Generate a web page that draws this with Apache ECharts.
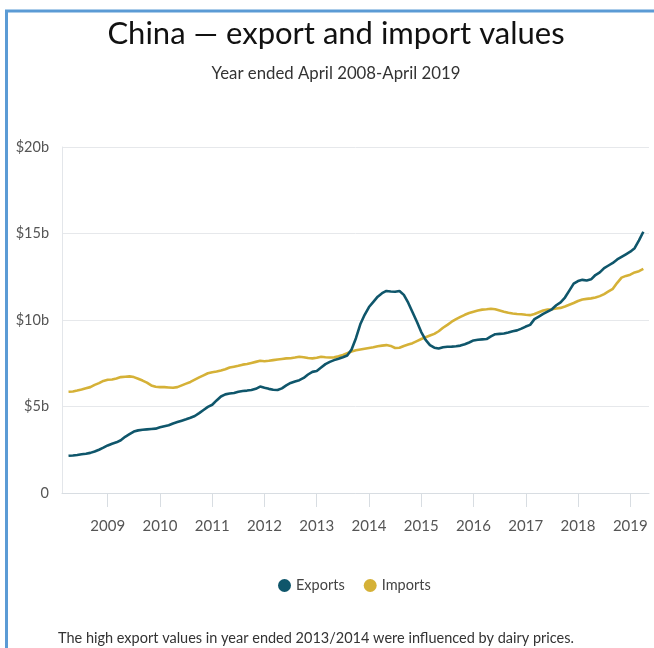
<!DOCTYPE html>
<html>
<head>
<meta charset="utf-8">
<script src="https://cdn.jsdelivr.net/npm/echarts@6/dist/echarts.min.js"></script>
<style>
  html, body { margin: 0; padding: 0; background: #fff; }
  #chart { width: 654px; height: 648px; }
</style>
</head>
<body>
<div id="chart"></div>
<script>
// Year-ended values (NZ$ billion), monthly from April 2008 to April 2019
const firstYear = 2008;
const firstMonth = 4; // April

const exports2008 = [2.15, 2.17, 2.20, 2.24, 2.27, 2.32, 2.40, 2.50, 2.62];
const exports2009 = [2.75, 2.85, 2.93, 3.05, 3.25, 3.40, 3.55, 3.62, 3.66, 3.68, 3.70, 3.72];
const exports2010 = [3.80, 3.86, 3.92, 4.02, 4.10, 4.18, 4.26, 4.35, 4.45, 4.62, 4.80, 4.98];
const exports2011 = [5.10, 5.35, 5.58, 5.70, 5.75, 5.78, 5.85, 5.90, 5.92, 5.95, 6.02, 6.15];
const exports2012 = [6.08, 6.02, 5.97, 5.95, 6.05, 6.22, 6.36, 6.45, 6.52, 6.65, 6.85, 7.00];
const exports2013 = [7.05, 7.25, 7.45, 7.58, 7.68, 7.76, 7.85, 7.95, 8.30, 8.95, 9.75, 10.30];
const exports2014 = [10.75, 11.05, 11.35, 11.55, 11.68, 11.65, 11.63, 11.68, 11.45, 11.00, 10.45, 9.90];
const exports2015 = [9.30, 8.85, 8.55, 8.40, 8.35, 8.42, 8.45, 8.46, 8.48, 8.52, 8.60, 8.70];
const exports2016 = [8.82, 8.86, 8.88, 8.90, 9.05, 9.18, 9.20, 9.22, 9.28, 9.35, 9.40, 9.50];
const exports2017 = [9.62, 9.72, 10.05, 10.20, 10.35, 10.48, 10.62, 10.85, 11.02, 11.30, 11.70, 12.10];
const exports2018 = [12.25, 12.32, 12.28, 12.35, 12.60, 12.75, 13.00, 13.15, 13.30, 13.50, 13.65, 13.80];
const exports2019 = [13.95, 14.15, 14.60, 15.10];

const imports2008 = [5.85, 5.87, 5.92, 5.98, 6.05, 6.12, 6.25, 6.35, 6.48];
const imports2009 = [6.55, 6.56, 6.62, 6.70, 6.72, 6.74, 6.70, 6.60, 6.50, 6.38, 6.22, 6.14];
const imports2010 = [6.12, 6.12, 6.10, 6.08, 6.12, 6.22, 6.32, 6.42, 6.55, 6.68, 6.80, 6.92];
const imports2011 = [6.98, 7.02, 7.08, 7.15, 7.25, 7.30, 7.35, 7.42, 7.46, 7.52, 7.58, 7.64];
const imports2012 = [7.62, 7.64, 7.68, 7.72, 7.75, 7.78, 7.79, 7.83, 7.88, 7.85, 7.80, 7.78];
const imports2013 = [7.82, 7.88, 7.85, 7.83, 7.84, 7.90, 7.98, 8.08, 8.18, 8.25, 8.30, 8.34];
const imports2014 = [8.38, 8.42, 8.48, 8.52, 8.55, 8.50, 8.38, 8.40, 8.50, 8.58, 8.66, 8.78];
const imports2015 = [8.90, 9.00, 9.10, 9.20, 9.35, 9.55, 9.72, 9.90, 10.05, 10.18, 10.30, 10.40];
const imports2016 = [10.48, 10.55, 10.60, 10.62, 10.65, 10.62, 10.55, 10.48, 10.42, 10.38, 10.35, 10.33];
const imports2017 = [10.30, 10.28, 10.35, 10.45, 10.55, 10.60, 10.62, 10.66, 10.70, 10.78, 10.88, 10.98];
const imports2018 = [11.10, 11.18, 11.22, 11.25, 11.30, 11.38, 11.50, 11.65, 11.80, 12.15, 12.45, 12.55];
const imports2019 = [12.62, 12.75, 12.82, 12.95];

const yearLabels = ['2009', '2010', '2011', '2012', '2013', '2014', '2015', '2016', '2017', '2018', '2019'];
const valueTicks = [0, 5, 10, 15, 20];
const seriesNames = ['Exports', 'Imports'];

const exportsValues = [].concat(exports2008, exports2009, exports2010, exports2011, exports2012,
  exports2013, exports2014, exports2015, exports2016, exports2017, exports2018, exports2019);
const importsValues = [].concat(imports2008, imports2009, imports2010, imports2011, imports2012,
  imports2013, imports2014, imports2015, imports2016, imports2017, imports2018, imports2019);

// x position = months since January of the first year
const startOffset = firstMonth - 1;
const toPoints = vals => vals.map((v, i) => [startOffset + i, v]);
const yearPos = yearLabels.map(y => (Number(y) - firstYear) * 12);

const FONT = 'Lato, "Noto Sans", sans-serif';
const colors = { Exports: '#0f566b', Imports: '#d5b137' };

const chart = echarts.init(document.getElementById('chart'), null, { renderer: 'canvas' });

chart.setOption({
  backgroundColor: '#ffffff',
  animation: false,
  textStyle: { fontFamily: FONT },
  grid: { left: 62, right: 5, top: 147, bottom: 155, containLabel: false },
  legend: {
    data: seriesNames.map(n => ({ name: n, icon: 'circle' })),
    left: 273,
    top: 573,
    itemWidth: 13,
    itemHeight: 13,
    itemGap: 19,
    textStyle: { fontSize: 14.5, color: '#444', fontFamily: FONT }
  },
  xAxis: {
    type: 'value',
    min: 1.5,
    max: 136.3,
    axisLine: { show: true, lineStyle: { color: '#d8dde2', width: 1 } },
    axisTick: { show: true, customValues: yearPos, length: 14, lineStyle: { color: '#d8dde2' } },
    axisLabel: {
      customValues: yearPos,
      margin: 26,
      fontSize: 15,
      color: '#555',
      fontFamily: FONT,
      formatter: v => String(firstYear + Math.round(v / 12))
    },
    splitLine: { show: false }
  },
  yAxis: {
    type: 'value',
    min: valueTicks[0],
    max: valueTicks[valueTicks.length - 1],
    interval: 5,
    axisLine: { show: true, lineStyle: { color: '#e3e6ea', width: 1 } },
    axisTick: { show: false },
    axisLabel: {
      margin: 13,
      fontSize: 14.5,
      color: '#555',
      fontFamily: FONT,
      formatter: v => (v === 0 ? '0' : '$' + v + 'b')
    },
    splitLine: { show: true, lineStyle: { color: '#e6e8eb', width: 1 } }
  },
  series: [
    {
      name: 'Exports',
      type: 'line',
      data: toPoints(exportsValues),
      showSymbol: false,
      symbol: 'circle',
      itemStyle: { color: colors.Exports },
      lineStyle: { color: colors.Exports, width: 2.6 },
      z: 3
    },
    {
      name: 'Imports',
      type: 'line',
      data: toPoints(importsValues),
      showSymbol: false,
      symbol: 'circle',
      itemStyle: { color: colors.Imports },
      lineStyle: { color: colors.Imports, width: 2.6 },
      z: 2
    }
  ],
  graphic: [
    // frame: top and left edges
    { type: 'line', shape: { x1: 5, y1: 11, x2: 654, y2: 11 }, style: { stroke: '#5b9bd5', lineWidth: 3 } },
    { type: 'line', shape: { x1: 6.5, y1: 10, x2: 6.5, y2: 648 }, style: { stroke: '#5b9bd5', lineWidth: 3 } },
    {
      type: 'text', x: 336, y: 34,
      style: { text: 'China — export and import values', font: '31px ' + FONT, fill: '#111', align: 'center', verticalAlign: 'middle' }
    },
    {
      type: 'text', x: 336, y: 74,
      style: { text: 'Year ended April 2008-April 2019', font: '16.8px ' + FONT, fill: '#333', align: 'center', verticalAlign: 'middle' }
    },
    {
      type: 'text', x: 58, y: 638,
      style: { text: 'The high export values in year ended 2013/2014 were influenced by dairy prices.', font: '14.5px ' + FONT, fill: '#333', align: 'left', verticalAlign: 'middle' }
    }
  ]
});
</script>
</body>
</html>
